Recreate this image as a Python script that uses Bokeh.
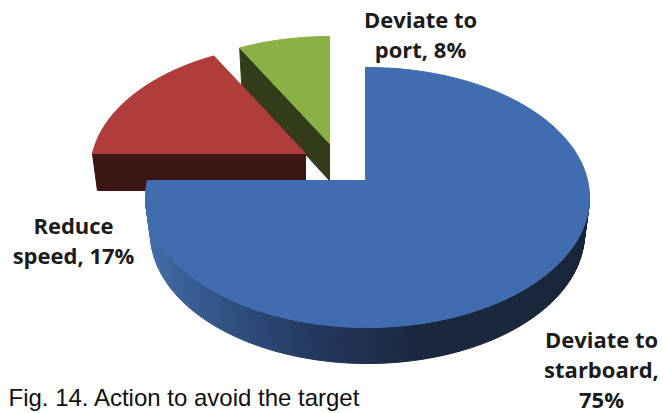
import math
from bokeh.plotting import figure
from bokeh.models import Range1d
from bokeh.core.properties import value
from bokeh.embed import file_html
from bokeh.resources import INLINE

# data
categories = ["Deviate to starboard", "Reduce speed", "Deviate to port"]
shares = [75, 17, 8]
label_lines = [["Deviate to", "starboard,", "75%"], ["Reduce", "speed, 17%"], ["Deviate to", "port, 8%"]]
caption = "Fig. 14. Action to avoid the target"

# styles / layout
top_colors = ["#406DAF", "#B03C3C", "#8AB146"]
side_colors = [None, "#3D1616", "#333D1B"]
apex = [(365, 180), (305, 153), (329, 143)]
centers = [(367, 197), (307, 170), (329, 161)]
radii = [(222, 130), (217, 127), (215, 125)]
depth = 37
squash = 0.585
label_x = [601, 73, 420]
label_y = [338, 224, 18]
line_h = 30

p = figure(width=663, height=413, output_backend="svg", toolbar_location=None,
           x_range=Range1d(0, 663), y_range=Range1d(413, 0), min_border=0)
p.axis.visible = False
p.grid.visible = False
p.outline_line_color = None
p.background_fill_color = "white"


def rim(i, theta):
    ax, ay = apex[i]
    cx, cy = centers[i]
    rx, ry = radii[i]
    dx, dy = math.sin(theta), -squash * math.cos(theta)
    fx, fy = (ax - cx) / rx, (ay - cy) / ry
    gx, gy = dx / rx, dy / ry
    a = gx * gx + gy * gy
    b = 2 * (fx * gx + fy * gy)
    c = fx * fx + fy * fy - 1
    t = (-b + math.sqrt(b * b - 4 * a * c)) / (2 * a)
    return ax + t * dx, ay + t * dy


def arc(i, a0, a1, n=90):
    return [rim(i, a0 + (a1 - a0) * k / n) for k in range(n + 1)]


# slice angular extents, clockwise from 12 o'clock
ranges = []
start = 0.0
for s in shares:
    end = start + s / 100 * 2 * math.pi
    ranges.append((start, end))
    start = end


def mix(c0, c1, f):
    return "#%02x%02x%02x" % tuple(round(a + (b - a) * f) for a, b in zip(c0, c1))


def side_color(x):
    stops = [(146, (70, 112, 170)), (175, (60, 98, 155)), (250, (44, 74, 120)),
             (330, (34, 52, 88)), (420, (26, 40, 62)), (590, (25, 38, 58))]
    for (x0, c0), (x1, c1) in zip(stops, stops[1:]):
        if x <= x1:
            return mix(c0, c1, max(0, (x - x0) / (x1 - x0)))
    return mix(stops[-1][1], stops[-1][1], 0)


# green (exploded) slice
a0, a1 = ranges[2]
ax, ay = apex[2]
ex, ey = rim(2, a0)
p.patch([ex, ax, ax, ex + 2], [ey, ay, ay + depth, ey + depth], color=side_colors[2], line_width=1)
pts = [apex[2]] + arc(2, a0, a1, 30)
p.patch([q[0] for q in pts], [q[1] for q in pts], color=top_colors[2], line_width=1)

# red (exploded) slice
a0, a1 = ranges[1]
ax, ay = apex[1]
lx, ly = rim(1, a0)
p.patch([lx, ax, ax, lx + 5], [ly, ay, ay + depth, ly + depth], color=side_colors[1], line_width=1)
pts = [apex[1]] + arc(1, a0, a1, 40)
p.patch([q[0] for q in pts], [q[1] for q in pts], color=top_colors[1], line_width=1)

# blue slice: shaded rim, then top face
cx, cy = centers[0]
rx, ry = radii[0]
n = 130
xs, ys, cols = [], [], []
for k in range(n):
    f0 = math.pi * k / n
    f1 = math.pi * (k + 1) / n
    xs.append([cx + rx * math.cos(f0), cx + rx * math.cos(f1),
               cx + (rx - 5) * math.cos(f1), cx + (rx - 5) * math.cos(f0)])
    ys.append([cy + ry * math.sin(f0), cy + ry * math.sin(f1),
               cy + depth - 1 + ry * math.sin(f1), cy + depth - 1 + ry * math.sin(f0)])
    cols.append(side_color(sum(xs[-1]) / 4))
p.patches(xs, ys, fill_color=cols, line_color=cols, line_width=1)
a0, a1 = ranges[0]
pts = [apex[0]] + arc(0, a0, a1, 240)
p.patch([q[0] for q in pts], [q[1] for q in pts], color=top_colors[0], line_width=1)

# labels
for lines, x, y in zip(label_lines, label_x, label_y):
    ycoords = [y + j * line_h for j in range(len(lines))]
    p.text([x] * len(lines), ycoords, text=lines, text_align="center", text_baseline="alphabetic",
           text_font=value("Open Sans"), text_font_style="bold", text_font_size="22px", text_color="#1c1c1c")
p.text([8], [397], text=[caption], text_align="left", text_baseline="alphabetic",
       text_font=value("Liberation Sans"), text_font_size="24px", text_color="#111111")

open("out.html", "w").write(file_html(p, INLINE))
